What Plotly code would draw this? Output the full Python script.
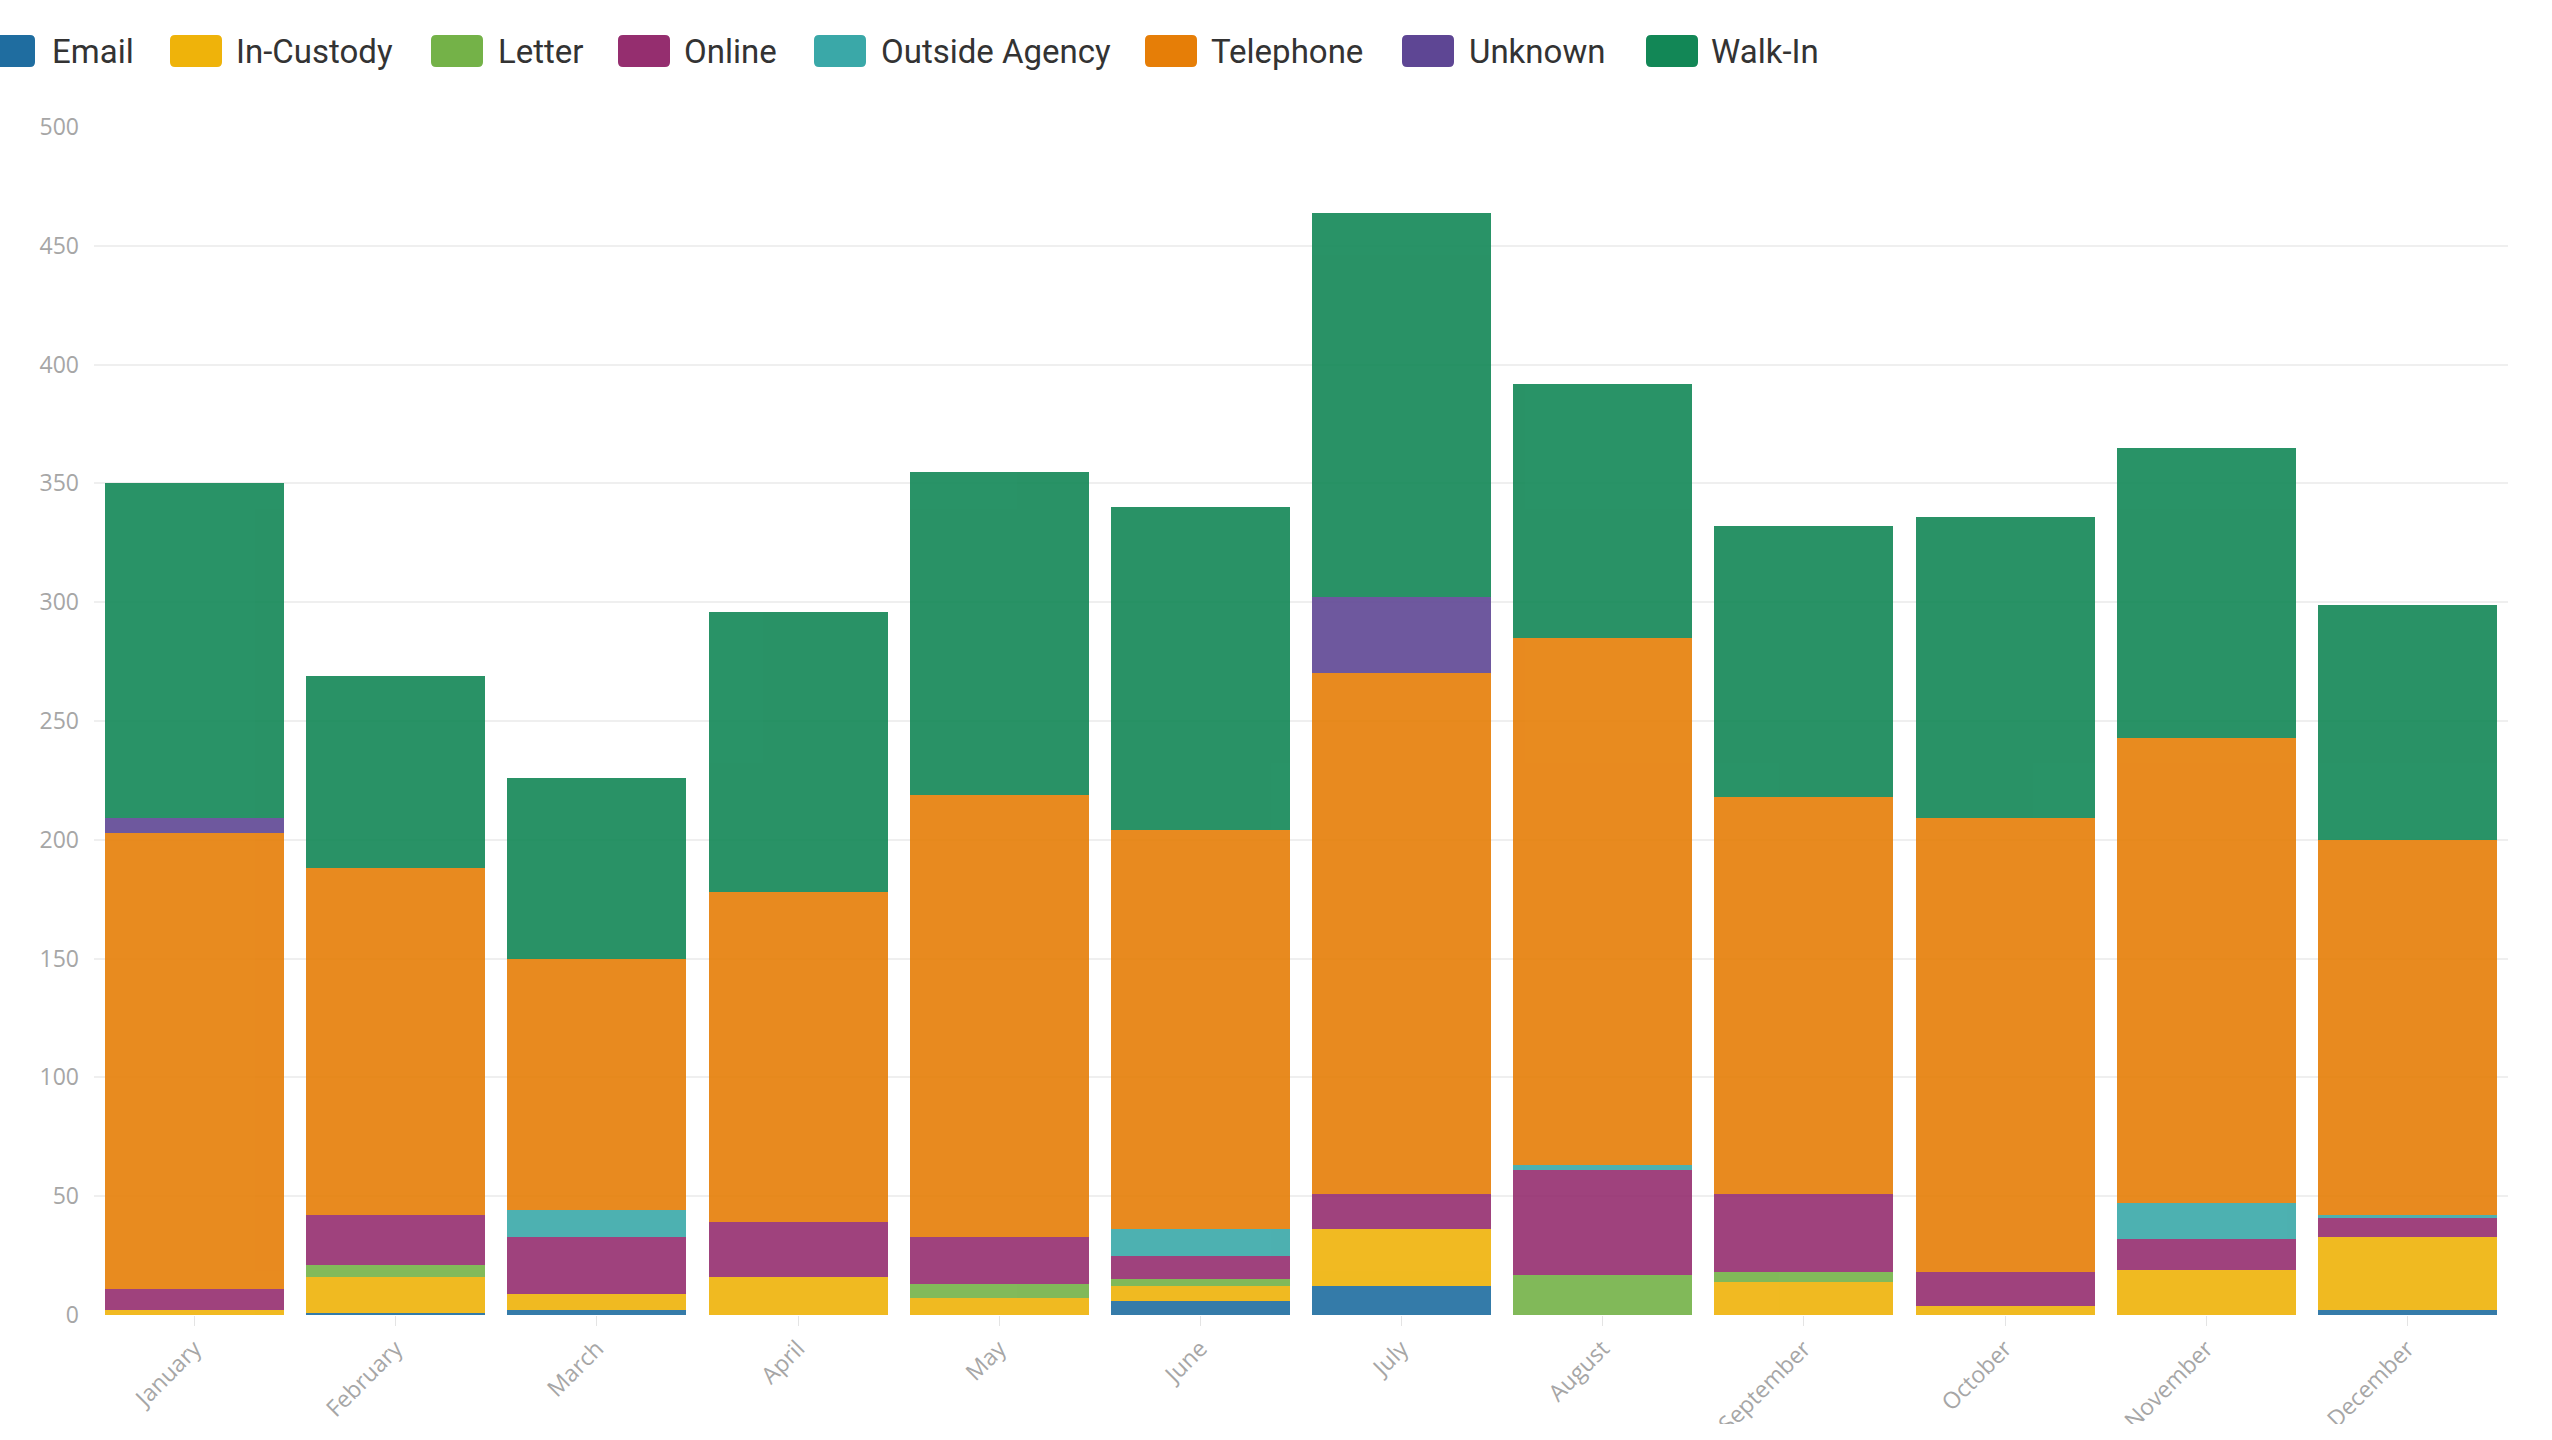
import plotly.graph_objects as go

# Monthly contacts by channel
months = ["January", "February", "March", "April", "May", "June",
          "July", "August", "September", "October", "November", "December"]

email          = [0, 1, 2, 0, 0, 6, 12, 0, 0, 0, 0, 2]
in_custody     = [2, 15, 7, 16, 7, 6, 24, 0, 14, 4, 19, 31]
letter         = [0, 5, 0, 0, 6, 3, 0, 17, 4, 0, 0, 0]
online         = [9, 21, 24, 23, 20, 10, 15, 44, 33, 14, 13, 8]
outside_agency = [0, 0, 11, 0, 0, 11, 0, 2, 0, 0, 15, 1]
telephone      = [192, 146, 106, 139, 186, 168, 219, 222, 167, 191, 196, 158]
unknown        = [6, 0, 0, 0, 0, 0, 32, 0, 0, 0, 0, 0]
walk_in        = [141, 81, 76, 118, 136, 136, 162, 107, 114, 127, 122, 99]

series_names = ["Email", "In-Custody", "Letter", "Online",
                "Outside Agency", "Telephone", "Unknown", "Walk-In"]
series_values = [email, in_custody, letter, online,
                 outside_agency, telephone, unknown, walk_in]
series_colors = ["#1F6DA0", "#EFB30A", "#74B248", "#952E6F",
                 "#3AA8A8", "#E67E07", "#5E4694", "#128756"]

y_ticks = [0, 50, 100, 150, 200, 250, 300, 350, 400, 450, 500]

# Page geometry
W, H = 2552, 1424
ML, MR, MT, MB = 94, 44, 127, 109
PW, PH = W - ML - MR, H - MT - MB


def px_x(px):
    return (px - ML) / PW


def px_y(py):
    return 1 - (py - MT) / PH


fig = go.Figure()
for name, vals, col in zip(series_names, series_values, series_colors):
    fig.add_trace(go.Bar(
        name=name, x=months, y=vals,
        marker=dict(color=col, line=dict(width=0)),
        opacity=0.9, showlegend=False,
    ))

# Legend row across the top (swatch left edge, label left edge in page px)
legend_swatch_left = [-17, 170, 431, 618, 814, 1145, 1402, 1646]
legend_label_left = [50, 234, 496, 682, 879, 1209, 1467, 1709]
legend_center_y = 51
sw, sh, r = 26, 16, 5
swatch_path = (f"M {-sw + r},{-sh} L {sw - r},{-sh} Q {sw},{-sh} {sw},{-sh + r} "
               f"L {sw},{sh - r} Q {sw},{sh} {sw - r},{sh} L {-sw + r},{sh} "
               f"Q {-sw},{sh} {-sw},{sh - r} L {-sw},{-sh + r} Q {-sw},{-sh} {-sw + r},{-sh} Z")

shapes = []
annotations = []
for name, col, sx, tx in zip(series_names, series_colors,
                             legend_swatch_left, legend_label_left):
    shapes.append(dict(
        type="path", xref="paper", yref="paper",
        xsizemode="pixel", ysizemode="pixel",
        xanchor=px_x(sx + sw), yanchor=px_y(legend_center_y),
        path=swatch_path, fillcolor=col, line=dict(width=0), layer="above",
    ))
    annotations.append(dict(
        text=name, xref="paper", yref="paper",
        x=px_x(tx), y=px_y(legend_center_y + 1),
        xanchor="left", yanchor="middle", showarrow=False,
        font=dict(family="Roboto", size=33, color="#333333"),
    ))

fig.update_layout(
    barmode="stack",
    bargap=0.11,
    width=W, height=H,
    margin=dict(l=ML, r=MR, t=MT, b=MB, pad=0, autoexpand=False),
    paper_bgcolor="white",
    plot_bgcolor="white",
    showlegend=False,
    shapes=shapes,
    annotations=annotations,
    xaxis=dict(
        type="category",
        automargin=False,
        tickangle=-45,
        ticks="outside", ticklen=10, tickcolor="#e4e4e4", tickwidth=1,
        showline=False, showgrid=False,
        tickfont=dict(family="Open Sans", size=23, color="#a6a6a6"),
    ),
    yaxis=dict(
        automargin=False,
        range=[0, 500],
        tickvals=y_ticks,
        ticktext=[str(v) for v in y_ticks],
        showgrid=True, gridcolor="#efefef", gridwidth=1.5,
        zeroline=False, showline=False,
        ticks="", ticklabelstandoff=14,
        tickfont=dict(family="Open Sans", size=23, color="#a6a6a6"),
    ),
)

fig.write_html("out.html")
